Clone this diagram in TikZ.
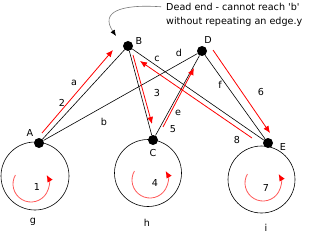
\documentclass[tikz,border=0pt]{standalone}
\usepackage{fontspec}
\setmainfont{DejaVu Sans}
\usepackage{tikz}
\usetikzlibrary{arrows.meta,positioning,calc}
\definecolor{walkred}{HTML}{FF0000}
\definecolor{loopred}{HTML}{FF5A5A}
\definecolor{notegray}{HTML}{7A7A7A}
\tikzstyle{vertex} = [circle, fill=black, inner sep=0pt, minimum size=10pt]
\tikzstyle{edge} = [black, line width=0.6pt]
\tikzstyle{walk} = [-{Latex[length=7pt,width=6pt]}, line width=0.8pt, walkred]
\tikzstyle{loopwalk} = [-{Latex[length=7pt,width=6pt,color=walkred]}, line width=0.8pt, loopred]
\tikzstyle{notearrow} = [-{Latex[length=6pt,width=5pt,color=black]}, line width=0.6pt, notegray]

\begin{document}
\begin{tikzpicture}[x=1pt,y=-1pt,font=\fontsize{9.6}{11}\selectfont]
\useasboundingbox (0,0) rectangle (320,240);
\node[vertex] at (39,143) (A) {};
\node[vertex] at (128,46) (B) {};
\node[vertex] at (153,140) (C) {};
\node[vertex] at (202,51) (D) {};
\node[vertex] at (268,143) (E) {};
\node at (30,133) (nA) {A};
\node at (139,41) (nB) {B};
\node at (153,153) (nC) {C};
\node at (208,40) (nD) {D};
\node at (283,147) (nE) {E};
% edges
\draw[edge] (A) -- (B);
\draw[edge] (A) -- (D);
\draw[edge] (B) -- (C);
\draw[edge] (B) -- (E);
\draw[edge] (C) -- (D);
\draw[edge] (D) -- (E);
\draw[edge] (35,176) circle[radius=34];
\draw[edge] (148,173) circle[radius=33.5];
\draw[edge] (261.5,179.5) circle[radius=33.5];
\node at (74,83) (la) {a};
\node at (104,122) (lb) {b};
\node at (157,59) (lc) {c};
\node at (179,53) (ld) {d};
\node at (178,113) (le) {e};
\node at (220,85) (lf) {f};
\node at (33,222) (lg) {g};
\node at (147,223) (lh) {h};
\node at (266,228) (li) {i};
% walk
\coordinate (w2s) at (42,133);  \coordinate (w2e) at (113,50);
\coordinate (w3s) at (133,55);  \coordinate (w3e) at (152,124);
\coordinate (w5s) at (163,127); \coordinate (w5e) at (194,68);
\coordinate (w6s) at (213,50);  \coordinate (w6e) at (270,133);
\coordinate (w8s) at (252,138); \coordinate (w8e) at (140,61);
\draw[loopwalk] ($(31,184)+(210:18)$) arc[start angle=210, end angle=-30, radius=18];
\draw[walk] (w2s) -- (w2e);
\draw[walk] (w3s) -- (w3e);
\draw[loopwalk] ($(150,180)+(210:18)$) arc[start angle=210, end angle=-30, radius=18];
\draw[walk] (w5s) -- (w5e);
\draw[walk] (w6s) -- (w6e);
\draw[loopwalk] ($(263,183)+(210:18)$) arc[start angle=210, end angle=-30, radius=18];
\draw[walk] (w8s) -- (w8e);
\node at (37,187) (s1) {1};
\node at (62,103) (s2) {2};
\node at (157,93) (s3) {3};
\node at (155,183) (s4) {4};
\node at (173,129) (s5) {5};
\node at (261,92) (s6) {6};
\node at (266,188) (s7) {7};
\node at (237,140) (s8) {8};
% note
\node[anchor=base west, inner sep=0pt] at (166,10.7) (dead1) {Dead end - cannot reach \textquotesingle b\textquotesingle};
\node[anchor=base west, inner sep=0pt] at (166,25) (dead2) {without repeating an edge.y};
\coordinate (deadtip) at (116,36);
\draw[notearrow, shorten <=5pt] (dead1.west) .. controls (120,4) and (100,12) .. (deadtip);
\end{tikzpicture}
\end{document}
